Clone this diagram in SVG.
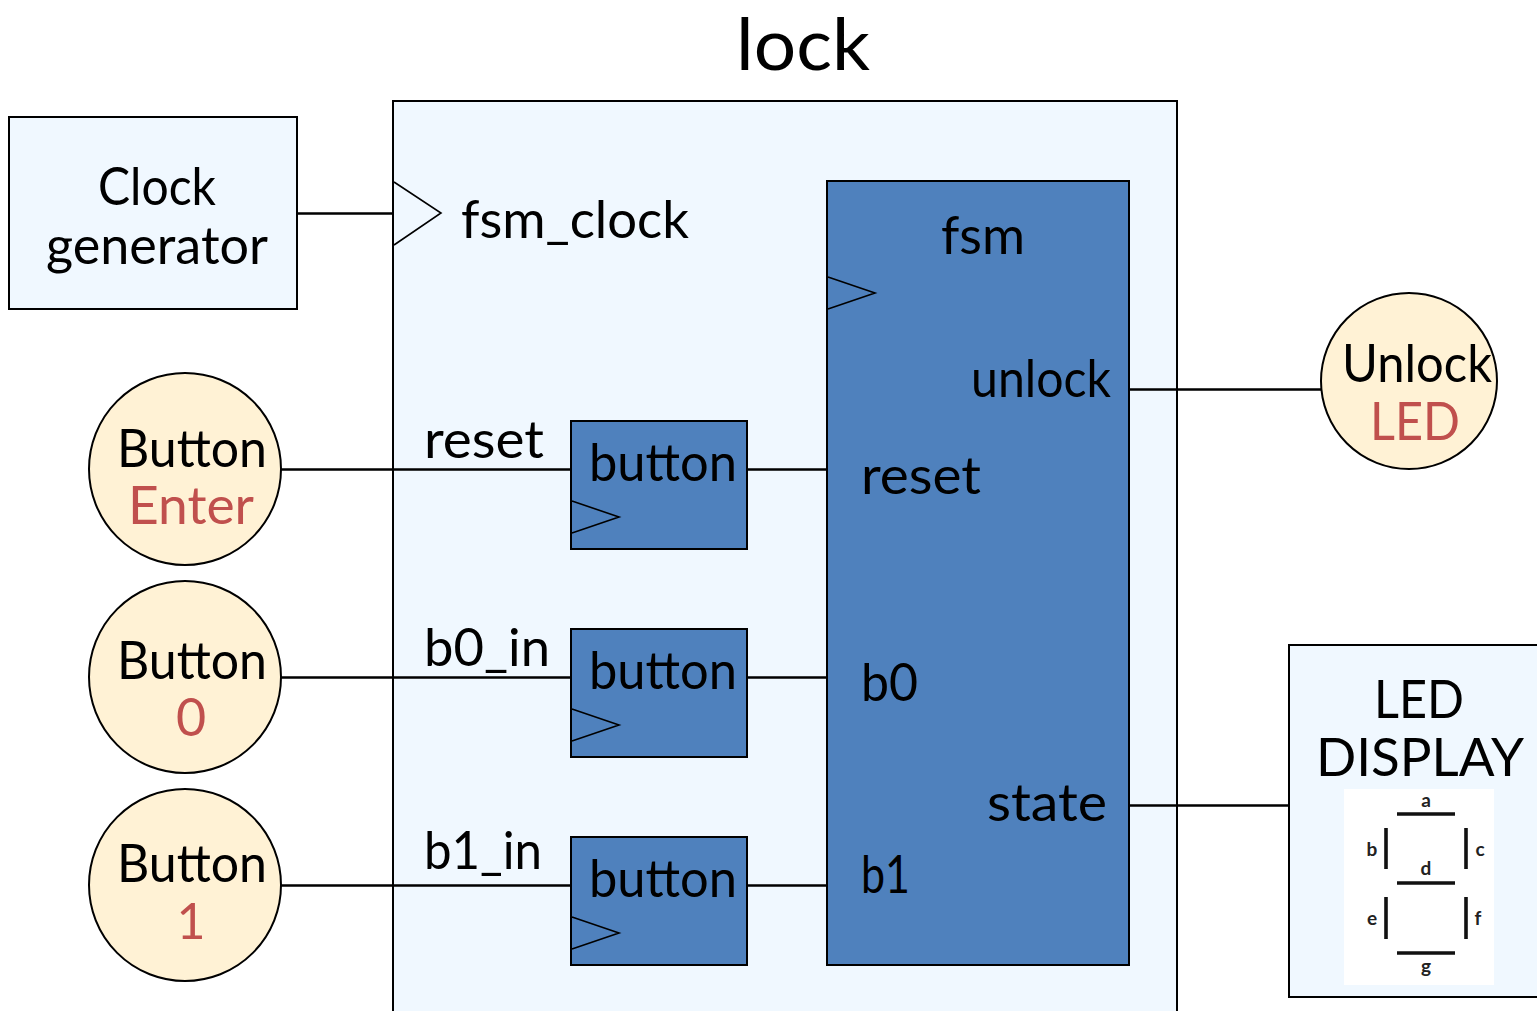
<svg xmlns="http://www.w3.org/2000/svg" width="1537" height="1011" viewBox="0 0 1537 1011">
<style>
text{font-family:"Lato","Noto Sans",sans-serif;fill:#000;font-size:52px}
.c{text-anchor:middle}
.r{fill:#c0504d}
.box{fill:#f0f8ff;stroke:#000;stroke-width:2}
.blue{fill:#4f81bd;stroke:#000;stroke-width:2}
.btn{fill:#fff2d5;stroke:#000;stroke-width:2}
.tri{fill:none;stroke:#000;stroke-width:1.6}
.wire{fill:none;stroke:#000;stroke-width:2.4}
.seg{stroke:#111;stroke-width:3.6;fill:none}
.sl{font-size:19px;font-weight:700;fill:#222}
</style>
<rect width="1537" height="1011" fill="#fff"/>
<text x="803" y="70" class="c" style="font-size:72px" textLength="134" lengthAdjust="spacingAndGlyphs">lock</text>
<g id="lock"><rect class="box" x="393" y="101" width="784" height="930"/>
<polyline class="tri" points="394,182 441,213 394,245"/>
<text x="461" y="238" textLength="228" lengthAdjust="spacingAndGlyphs">fsm_clock</text></g>
<g id="clock-generator"><rect class="box" x="9" y="117" width="288" height="192"/>
<text x="157" y="205" class="c" textLength="118" lengthAdjust="spacingAndGlyphs">Clock</text>
<text x="157" y="264" class="c" textLength="222" lengthAdjust="spacingAndGlyphs">generator</text></g>
<g id="connectors">
<path class="wire" d="M297 213.500H393M281 469.500H571M747 469.500H827M281 677.500H571M747 677.500H827M281 885.500H571M747 885.500H827M1129 389.500H1321M1129 805.500H1289"/>
</g>
<g id="btn-enter"><circle class="btn" cx="185" cy="469" r="96"/>
<text x="192" y="467" class="c" textLength="150" lengthAdjust="spacingAndGlyphs">Button</text>
<text x="191" y="524" class="c r" textLength="126" lengthAdjust="spacingAndGlyphs">Enter</text></g>
<g id="btn-0"><circle class="btn" cx="185" cy="677" r="96"/>
<text x="192" y="679" class="c" textLength="150" lengthAdjust="spacingAndGlyphs">Button</text>
<text x="191" y="736" class="c r">0</text></g>
<g id="btn-1"><circle class="btn" cx="185" cy="885" r="96"/>
<text x="192" y="882" class="c" textLength="150" lengthAdjust="spacingAndGlyphs">Button</text>
<text x="191" y="939" class="c r" style="font-size:50px">1</text></g>
<text x="424" y="458" textLength="120" lengthAdjust="spacingAndGlyphs">reset</text>
<text x="424" y="666" textLength="126" lengthAdjust="spacingAndGlyphs">b0_in</text>
<text x="424" y="869" textLength="118" lengthAdjust="spacingAndGlyphs">b1_in</text>
<g id="button-a"><rect class="blue" x="571" y="421" width="176" height="128"/>
<polyline class="tri" points="572,501 619,517 572,533"/>
<text x="589" y="481" textLength="148" lengthAdjust="spacingAndGlyphs">button</text></g>
<g id="button-b"><rect class="blue" x="571" y="629" width="176" height="128"/>
<polyline class="tri" points="572,709 619,725 572,741"/>
<text x="589" y="689" textLength="148" lengthAdjust="spacingAndGlyphs">button</text></g>
<g id="button-c"><rect class="blue" x="571" y="837" width="176" height="128"/>
<polyline class="tri" points="572,917 619,933 572,949"/>
<text x="589" y="897" textLength="148" lengthAdjust="spacingAndGlyphs">button</text></g>
<g id="fsm"><rect class="blue" x="827" y="181" width="302" height="784"/>
<polyline class="tri" points="828,277 875,293 828,309"/>
<text x="941" y="254" textLength="84" lengthAdjust="spacingAndGlyphs">fsm</text>
<text x="971" y="397" textLength="140" lengthAdjust="spacingAndGlyphs">unlock</text>
<text x="861" y="494" textLength="120" lengthAdjust="spacingAndGlyphs">reset</text>
<text x="861" y="701" textLength="57" lengthAdjust="spacingAndGlyphs">b0</text>
<text x="987" y="821" textLength="120" lengthAdjust="spacingAndGlyphs">state</text>
<text x="861" y="893" textLength="49" lengthAdjust="spacingAndGlyphs">b1</text></g>
<g id="unlock-led"><circle class="btn" cx="1409" cy="381" r="88"/>
<text x="1417" y="382" class="c" textLength="150" lengthAdjust="spacingAndGlyphs">Unlock</text>
<text x="1415" y="440" class="c r" textLength="90" lengthAdjust="spacingAndGlyphs">LED</text></g>
<g id="led-display"><rect class="box" x="1289" y="645" width="260" height="352"/>
<text x="1419" y="718" class="c" textLength="90" lengthAdjust="spacingAndGlyphs">LED</text>
<text x="1420" y="776" class="c" textLength="208" lengthAdjust="spacingAndGlyphs">DISPLAY</text>
<rect x="1344" y="789" width="150" height="196" fill="#fff"/>
<path class="seg" d="M1397 814H1455M1386 828V869M1466 828V869M1397 883H1455M1386 897V939M1466 897V939M1397 953H1455"/>
<text x="1426" y="807" class="c sl">a</text>
<text x="1372" y="856" class="c sl">b</text>
<text x="1480" y="856" class="c sl">c</text>
<text x="1426" y="875" class="c sl">d</text>
<text x="1372" y="925" class="c sl">e</text>
<text x="1478" y="925" class="c sl">f</text>
<text x="1426" y="973" class="c sl">g</text></g>
</svg>
